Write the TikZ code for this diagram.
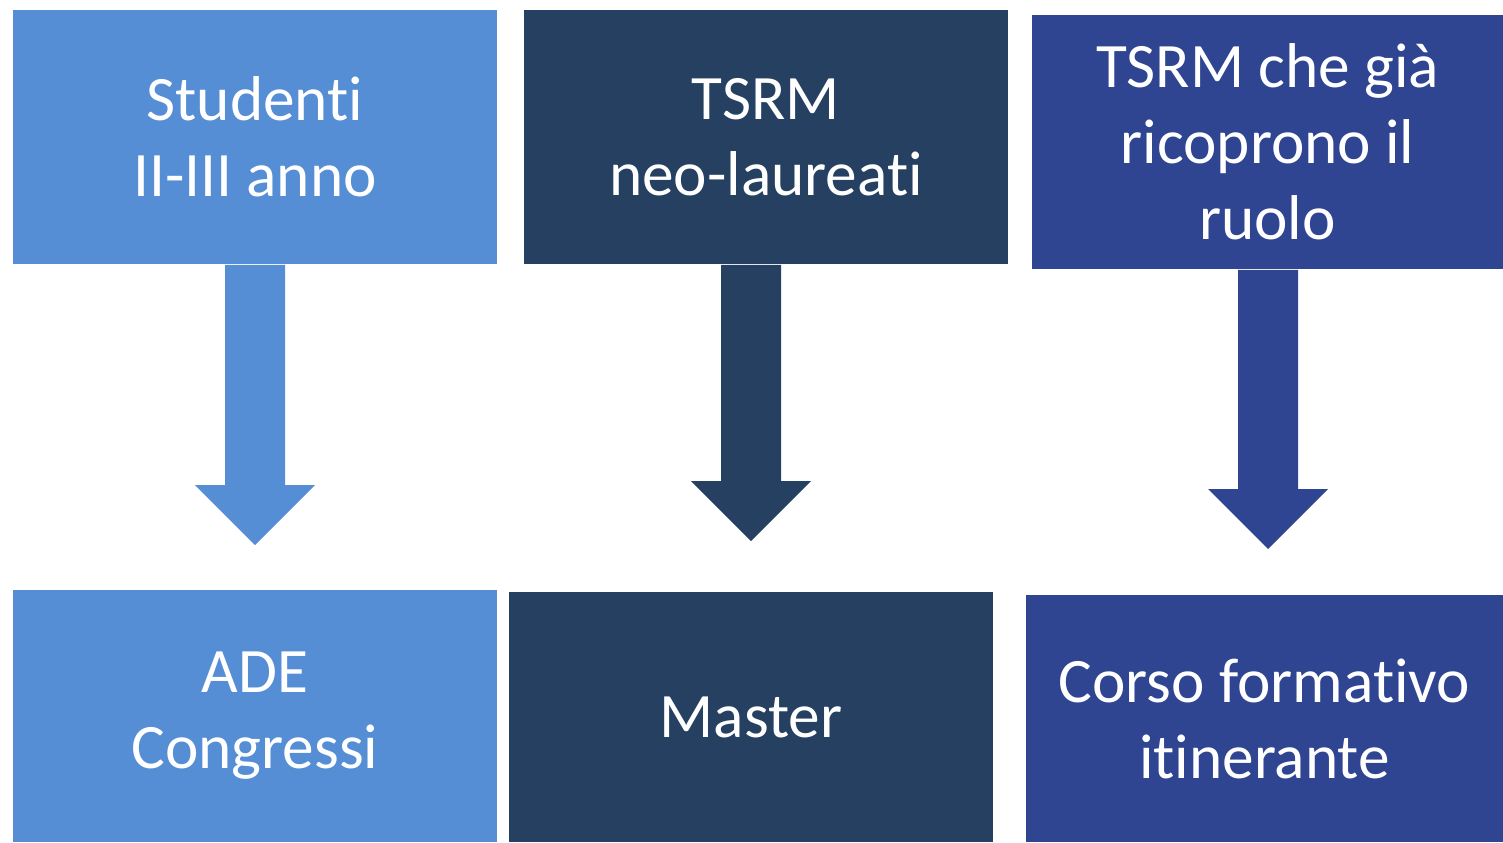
\documentclass[tikz,border=0pt]{standalone}
\usepackage{fontspec}
\setmainfont[Ligatures=NoCommon]{Carlito}
\usetikzlibrary{calc}
\definecolor{lightblue}{HTML}{558ED5}
\definecolor{navy}{HTML}{254061}
\definecolor{royal}{HTML}{2F4592}
\tikzset{
  blk/.style={rectangle,inner sep=0pt,text=white,align=center,
    font=\fontsize{18}{21.6}\selectfont},
  wide/.style={minimum width=4.84cm,minimum height=2.54cm},
}
% block arrow: #1 colour, #2 top point, #3 tip
\newcommand{\fatarrow}[3]{%
  \fill[#1] ($(#2)+(-30,0)$) -- ($(#3)+(-30,-60)$) -- ($(#3)+(-60,-60)$) -- (#3)
    -- ($(#3)+(60,-60)$) -- ($(#3)+(30,-60)$) -- ($(#2)+(30,0)$) -- cycle;}

\begin{document}
\begin{tikzpicture}[x=0.01cm,y=-0.01cm]
\useasboundingbox (0,0) rectangle (1503,842);
\node[blk,wide,fill=lightblue] (stud) at (255,137) {Studenti\\II-III anno};
\node[blk,wide,fill=navy] (neo) at (766,137) {TSRM\\neo-laureati};
\node[blk,minimum width=4.71cm,minimum height=2.54cm,fill=royal] (ruolo) at (1267.5,142)
  {TSRM che già\\ricoprono il\\ruolo};
\node[blk,minimum width=4.84cm,minimum height=2.52cm,fill=lightblue] (ade) at (255,716) {ADE\\Congressi};
\node[blk,minimum width=4.84cm,minimum height=2.50cm,fill=navy] (master) at (751,717) {Master};
\node[blk,minimum width=4.77cm,minimum height=2.47cm,fill=royal] (corso) at (1264.5,718.5)
  {Corso formativo\\itinerante};
\coordinate (tipA) at (255,545); \coordinate (tipB) at (751,541); \coordinate (tipC) at (1268,549);
\fatarrow{lightblue}{stud.south -| tipA}{tipA}
\fatarrow{navy}{neo.south -| tipB}{tipB}
\fatarrow{royal}{ruolo.south -| tipC}{tipC}
\end{tikzpicture}
\end{document}
